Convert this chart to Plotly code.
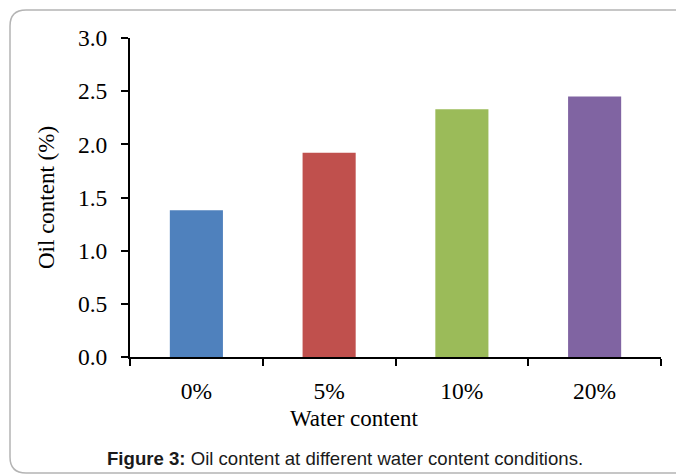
import plotly.graph_objects as go

# ── Data ────────────────────────────────────────────────
water_content = ["0%", "5%", "10%", "20%"]
oil_content = [1.38, 1.92, 2.33, 2.45]
bar_colors = ["#4F81BD", "#C0504D", "#9BBB59", "#8064A2"]

y_ticks = [0.0, 0.5, 1.0, 1.5, 2.0, 2.5, 3.0]

# ── Canvas geometry (px) ────────────────────────────────
W, H = 676, 476
L, R, T, B = 130, 15, 38, 119


def px_x(p):
    return (p - L) / (W - L - R)


def px_y(p):
    return (H - B - p) / (H - T - B)


SERIF = "Liberation Serif, Times New Roman, serif"
SANS = "Liberation Sans, Arial, sans-serif"

fig = go.Figure(go.Bar(
    x=water_content, y=oil_content,
    marker=dict(color=bar_colors, line_width=0),
    width=0.4,
))

axis_common = dict(
    showline=True, linecolor="black", linewidth=2,
    ticks="outside", tickcolor="black", tickwidth=2, ticklen=7,
    showgrid=False, zeroline=False,
    tickfont=dict(family=SERIF, size=23.5, color="black"),
)

fig.update_xaxes(
    range=[-0.5, 3.5], tickson="boundaries",
    ticklabelstandoff=12, **axis_common,
)
fig.update_yaxes(
    range=[0, 3], tickvals=y_ticks, tickformat=".1f",
    ticklabelstandoff=9, **axis_common,
)

# rounded frame around the figure (runs off the right edge)
x0, y0, x1, y1, rad = 10, 10, 700, 473, 16
frame = (
    f"M {px_x(x1)} {px_y(y0)} L {px_x(x0 + rad)} {px_y(y0)} "
    f"Q {px_x(x0)} {px_y(y0)} {px_x(x0)} {px_y(y0 + rad)} "
    f"L {px_x(x0)} {px_y(y1 - rad)} "
    f"Q {px_x(x0)} {px_y(y1)} {px_x(x0 + rad)} {px_y(y1)} "
    f"L {px_x(x1)} {px_y(y1)}"
)


def note(text, x, y, font, angle=0):
    return dict(text=text, textangle=angle, x=px_x(x), y=px_y(y),
                xref="paper", yref="paper", xanchor="center", yanchor="middle",
                showarrow=False, font=font)


fig.update_layout(
    width=W, height=H,
    margin=dict(l=L, r=R, t=T, b=B),
    paper_bgcolor="white", plot_bgcolor="white",
    showlegend=False,
    shapes=[dict(type="path", path=frame, xref="paper", yref="paper",
                 line=dict(color="#b4b4b4", width=1.5), layer="below")],
    annotations=[
        note("Oil content (%)", 47, 198,
             dict(family=SERIF, size=23, color="black"), angle=-90),
        note("Water content", 354, 419,
             dict(family=SERIF, size=23, color="black")),
        note("<b>Figure 3:</b> Oil content at different water content conditions.",
             345, 458, dict(family=SANS, size=18.6, color="#1a1a1a")),
    ],
)

fig.write_html("out.html", config={"displayModeBar": False},
               post_script="document.body.style.margin='0';")
